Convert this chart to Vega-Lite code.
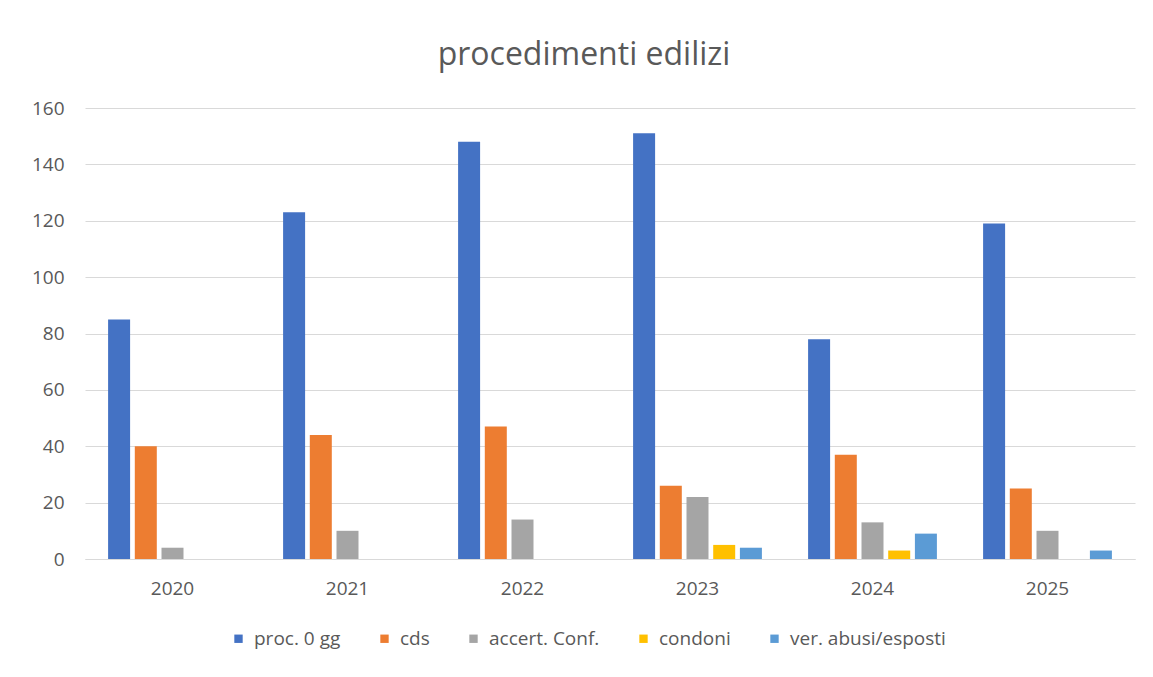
{
  "$schema": "https://vega.github.io/schema/vega-lite/v6.json",
  "autosize": "none",
  "width": 1050,
  "height": 451,
  "padding": {"left": 85, "top": 108, "right": 18, "bottom": 118},
  "background": "white",
  "title": {
    "text": "procedimenti edilizi",
    "font": "Open Sans",
    "fontSize": 32,
    "fontWeight": "normal",
    "color": "#595959",
    "anchor": "middle",
    "dx": -26,
    "offset": 27
  },
  "data": {
    "values": [
      {"anno": "2020", "serie": "proc. 0 gg", "valore": 85},
      {"anno": "2020", "serie": "cds", "valore": 40},
      {"anno": "2020", "serie": "accert. Conf.", "valore": 4},
      {"anno": "2020", "serie": "condoni", "valore": 0},
      {"anno": "2020", "serie": "ver. abusi/esposti", "valore": 0},
      {"anno": "2021", "serie": "proc. 0 gg", "valore": 123},
      {"anno": "2021", "serie": "cds", "valore": 44},
      {"anno": "2021", "serie": "accert. Conf.", "valore": 10},
      {"anno": "2021", "serie": "condoni", "valore": 0},
      {"anno": "2021", "serie": "ver. abusi/esposti", "valore": 0},
      {"anno": "2022", "serie": "proc. 0 gg", "valore": 148},
      {"anno": "2022", "serie": "cds", "valore": 47},
      {"anno": "2022", "serie": "accert. Conf.", "valore": 14},
      {"anno": "2022", "serie": "condoni", "valore": 0},
      {"anno": "2022", "serie": "ver. abusi/esposti", "valore": 0},
      {"anno": "2023", "serie": "proc. 0 gg", "valore": 151},
      {"anno": "2023", "serie": "cds", "valore": 26},
      {"anno": "2023", "serie": "accert. Conf.", "valore": 22},
      {"anno": "2023", "serie": "condoni", "valore": 5},
      {"anno": "2023", "serie": "ver. abusi/esposti", "valore": 4},
      {"anno": "2024", "serie": "proc. 0 gg", "valore": 78},
      {"anno": "2024", "serie": "cds", "valore": 37},
      {"anno": "2024", "serie": "accert. Conf.", "valore": 13},
      {"anno": "2024", "serie": "condoni", "valore": 3},
      {"anno": "2024", "serie": "ver. abusi/esposti", "valore": 9},
      {"anno": "2025", "serie": "proc. 0 gg", "valore": 119},
      {"anno": "2025", "serie": "cds", "valore": 25},
      {"anno": "2025", "serie": "accert. Conf.", "valore": 10},
      {"anno": "2025", "serie": "condoni", "valore": 0},
      {"anno": "2025", "serie": "ver. abusi/esposti", "valore": 3}
    ]
  },
  "mark": {"type": "bar"},
  "encoding": {
    "x": {
      "field": "anno",
      "type": "nominal",
      "scale": {"paddingInner": 0, "paddingOuter": 0},
      "axis": {
        "title": null,
        "labelAngle": 0,
        "labelFont": "Open Sans",
        "labelFontSize": 19,
        "labelColor": "#595959",
        "labelPadding": 20,
        "ticks": false,
        "domainColor": "#d9d9d9",
        "domainWidth": 1
      }
    },
    "xOffset": {
      "field": "serie",
      "type": "nominal",
      "sort": ["proc. 0 gg", "cds", "accert. Conf.", "condoni", "ver. abusi/esposti"],
      "scale": {"paddingInner": 0.176, "paddingOuter": 0.865}
    },
    "y": {
      "field": "valore",
      "type": "quantitative",
      "scale": {"domain": [0, 160]},
      "axis": {
        "title": null,
        "values": [0, 20, 40, 60, 80, 100, 120, 140, 160],
        "labelFont": "Open Sans",
        "labelFontSize": 19,
        "labelColor": "#595959",
        "labelPadding": 21,
        "ticks": false,
        "domain": false,
        "gridColor": "#d9d9d9",
        "gridWidth": 1
      }
    },
    "color": {
      "field": "serie",
      "type": "nominal",
      "sort": ["proc. 0 gg", "cds", "accert. Conf.", "condoni", "ver. abusi/esposti"],
      "scale": {
        "domain": ["proc. 0 gg", "cds", "accert. Conf.", "condoni", "ver. abusi/esposti"],
        "range": ["#4472C4", "#ED7D31", "#A5A5A5", "#FFC000", "#5B9BD5"]
      },
      "legend": {
        "title": null,
        "orient": "none",
        "legendX": 144,
        "legendY": 521,
        "direction": "horizontal",
        "columns": 5,
        "symbolType": "square",
        "symbolSize": 70,
        "symbolStrokeWidth": 0,
        "labelFont": "Open Sans",
        "labelFontSize": 19,
        "labelColor": "#595959",
        "columnPadding": 34,
        "labelOffset": 6
      }
    }
  },
  "config": {
    "view": {"stroke": null}
  }
}
